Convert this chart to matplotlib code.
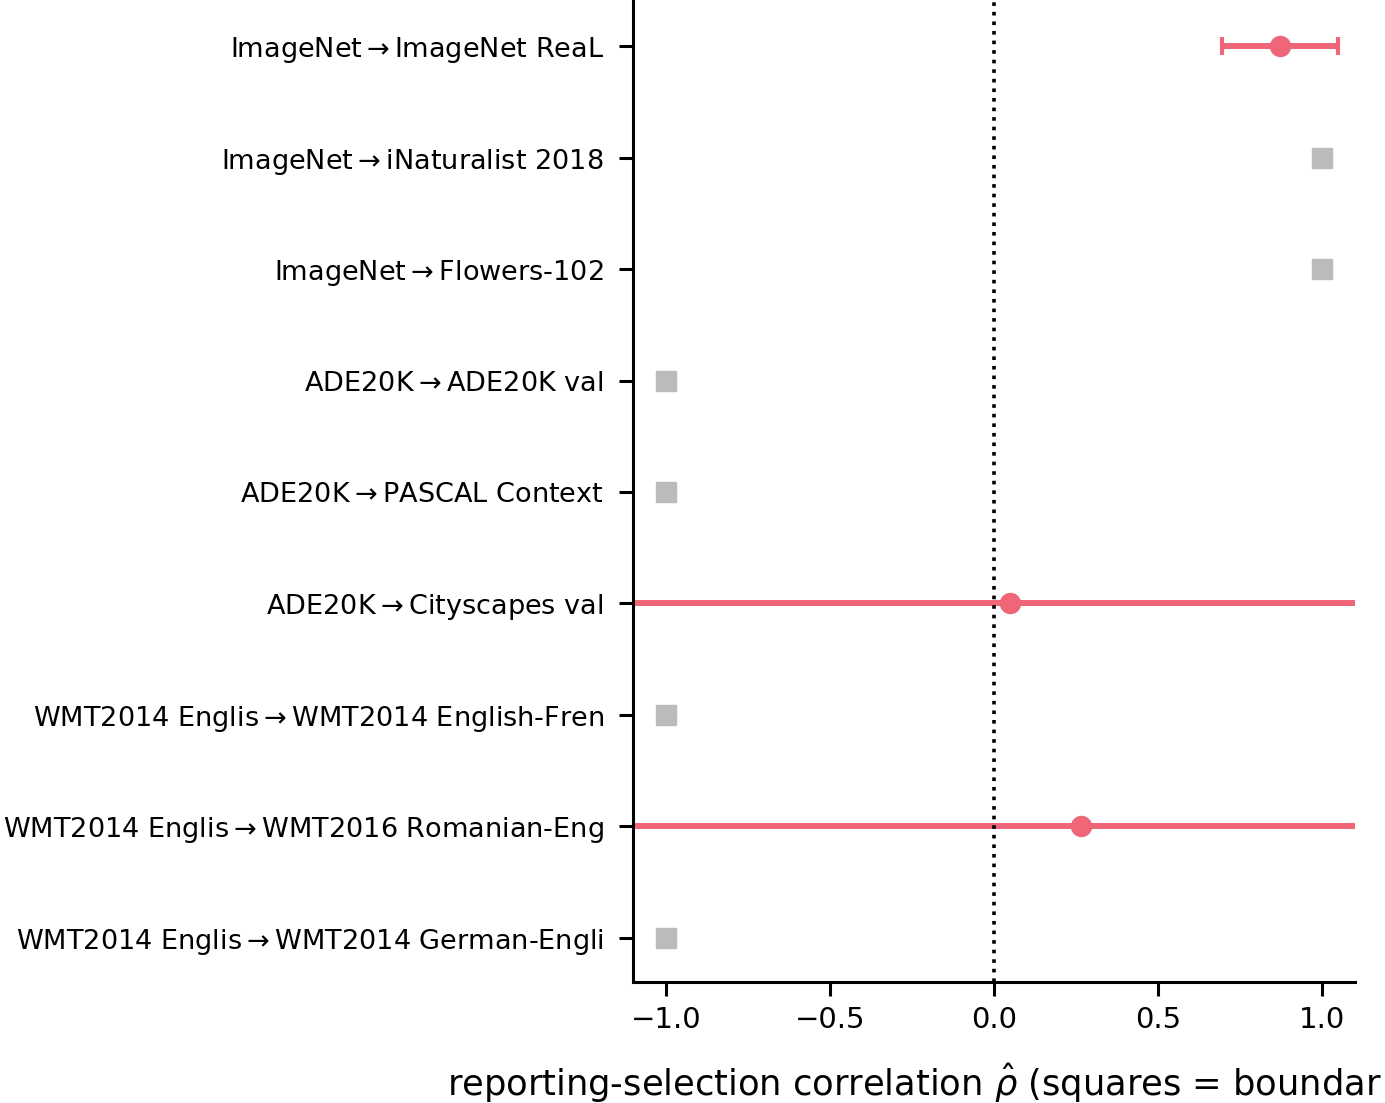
import numpy as np
import matplotlib
matplotlib.use("Agg")
import matplotlib.pyplot as plt

# rows, top to bottom
sources = ["ImageNet", "ImageNet", "ImageNet", "ADE20K", "ADE20K", "ADE20K",
           "WMT2014 Englis", "WMT2014 Englis", "WMT2014 Englis"]
targets = ["ImageNet ReaL", "iNaturalist 2018", "Flowers-102", "ADE20K val",
           "PASCAL Context", "Cityscapes val", "WMT2014 English-Fren",
           "WMT2016 Romanian-Eng", "WMT2014 German-Engli"]

# estimated correlations (nan = boundary case drawn as a square)
rho = [0.872, np.nan, np.nan, np.nan, np.nan, 0.049, np.nan, 0.265, np.nan]
ci_low = [0.695, np.nan, np.nan, np.nan, np.nan, -1.6, np.nan, -1.4, np.nan]
ci_high = [1.049, np.nan, np.nan, np.nan, np.nan, 1.7, np.nan, 1.9, np.nan]
boundary = [np.nan, 1.0, 1.0, -1.0, -1.0, np.nan, -1.0, np.nan, -1.0]

red = "#EE6677"
grey = "#BBBBBB"

labels = [f"{s}$\\rightarrow${t}" for s, t in zip(sources, targets)]
ypos = np.arange(len(labels))

fig = plt.figure(figsize=(13.85, 11.03), dpi=100)
ax = fig.add_axes([0.457, 0.1097, 0.5213, 0.8903])

rho_a = np.array(rho)
lo = np.array(ci_low)
hi = np.array(ci_high)
m = ~np.isnan(rho_a)
ax.errorbar(rho_a[m], ypos[m], xerr=[rho_a[m] - lo[m], hi[m] - rho_a[m]],
            fmt="o", color=red, ecolor=red, ms=14.4, elinewidth=4.3,
            capsize=6.2, capthick=3, zorder=2)

b = np.array(boundary)
mb = ~np.isnan(b)
ax.plot(b[mb], ypos[mb], "s", color=grey, ms=14, zorder=2)

ax.axvline(0, color="black", linestyle=":", linewidth=2.6, zorder=3)

ax.set_xlim(-1.1, 1.1)
ax.set_ylim(8.395, -0.413)
ax.set_xticks([-1.0, -0.5, 0.0, 0.5, 1.0])
ax.set_yticks(ypos)
ax.set_yticklabels(labels)

for side in ["top", "right"]:
    ax.spines[side].set_visible(False)
for side in ["left", "bottom"]:
    ax.spines[side].set_linewidth(2.2)

ax.tick_params(axis="both", length=10, width=2.2)
ax.tick_params(axis="y", pad=11, labelsize=19.5)
ax.tick_params(axis="x", pad=7, labelsize=21)

# the reference crops this label at the right edge
ax.set_xlabel("reporting-selection correlation $\\hat{\\rho}$ (squares = boundar",
              fontsize=25.4, ha="left")
ax.xaxis.set_label_coords(-0.2576, -0.081)

fig.savefig("out.png", dpi=100)
